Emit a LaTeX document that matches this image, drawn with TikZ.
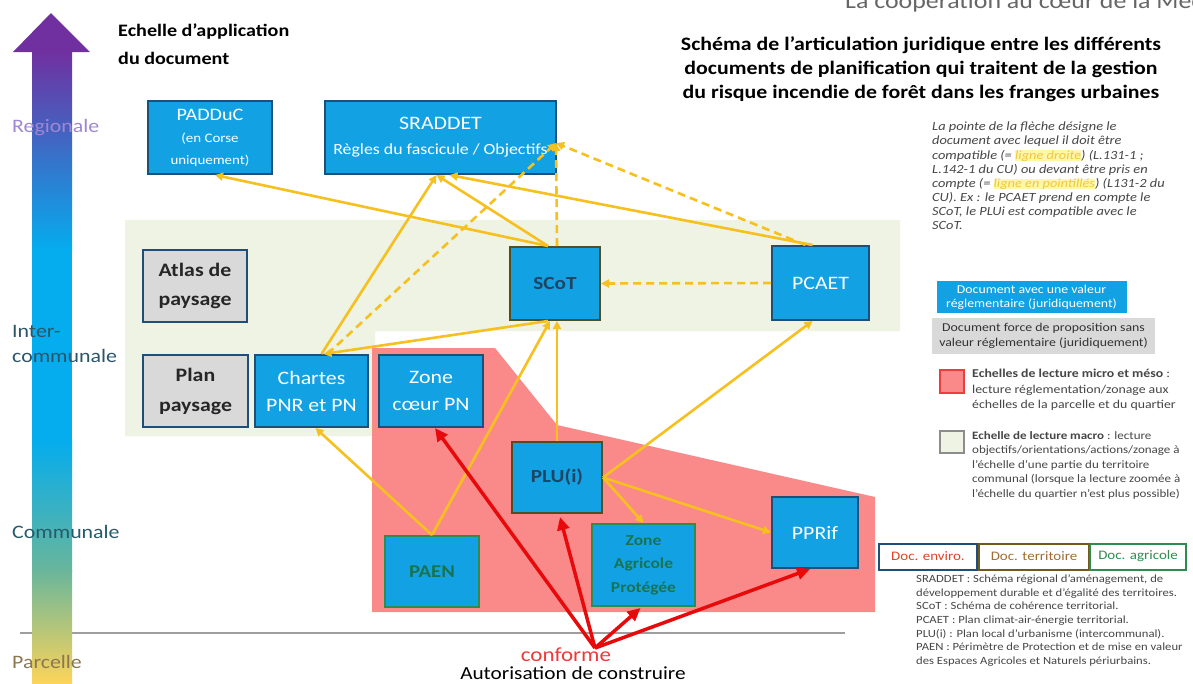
\documentclass[tikz,border=0pt]{standalone}
\usepackage{fontspec}
\setmainfont{Carlito}[FakeStretch=1.15]
\usetikzlibrary{arrows.meta,calc}
\definecolor{boxblue}{RGB}{18,162,228}
\definecolor{bordblue}{RGB}{31,78,121}
\definecolor{bordterr}{RGB}{80,78,35}
\definecolor{bordagri}{RGB}{45,140,80}
\definecolor{grayfill}{RGB}{217,217,217}
\definecolor{yel}{RGB}{246,192,30}
\definecolor{redc}{RGB}{232,10,10}
\definecolor{pinkz}{RGB}{250,138,138}
\definecolor{greenz}{RGB}{238,243,228}
\definecolor{darkt}{RGB}{30,70,100}
\definecolor{darkg}{RGB}{25,115,80}
\definecolor{purp}{RGB}{112,48,160}
\definecolor{cyanb}{RGB}{5,172,238}
\definecolor{tealg}{RGB}{105,182,155}
\definecolor{yelb}{RGB}{252,212,90}
\definecolor{lav}{RGB}{160,135,210}
\definecolor{slate}{RGB}{45,85,105}
\definecolor{olivet}{RGB}{140,120,80}
\definecolor{txtg}{RGB}{70,70,70}
\definecolor{hl}{RGB}{255,246,170}
\definecolor{hltext}{RGB}{240,200,60}
\newcommand\fsz[2]{\fontsize{#1}{#2}\selectfont}
\begin{document}
\begin{tikzpicture}[x=1pt,y=-1pt,
  docbox/.style={draw, line width=2pt, inner sep=0pt, align=center},
  bluebox/.style={docbox, fill=boxblue, draw=bordblue, text=white},
  terrbox/.style={docbox, fill=boxblue, draw=bordterr, text=darkt, font=\bfseries\fsz{18.5}{20}},
  agribox/.style={docbox, fill=boxblue, draw=bordagri, text=darkg, font=\bfseries\fsz{18}{20}},
  graybox/.style={docbox, fill=grayfill, draw=bordblue, text=black!85},
  comp/.style={draw=yel, line width=2.6pt, -{Triangle[length=8pt,width=8pt]}},
  pec/.style={comp, dash pattern=on 8pt off 5pt},
  conf/.style={draw=redc, line width=3.5pt, -{Triangle[length=13pt,width=12pt]}},
  scalelab/.style={anchor=west, inner sep=0pt, font=\fsz{19}{22}},
  legtxt/.style={anchor=north west, inner sep=0pt, align=left, text=txtg}
]
\useasboundingbox (0,0) rectangle (1193,683);
\clip (0,0) rectangle (1193,683);
\fill[white] (0,0) rectangle (1193,683);

% header (cut)
\node[anchor=base west, inner sep=0pt, text=black!60, font=\fsz{22.5}{26}] (hdr) at (845,8) {La coopération au cœur de la Méditerranée};

% zones
\fill[greenz] (125,220) -- (900,220) -- (900,331) -- (375,331) -- (375,436) -- (125,436) -- cycle;
\fill[pinkz] (372,348) -- (495,348) -- (557,425) -- (875,497) -- (875,612) -- (372,612) -- cycle;

% baseline
\draw[black!38, line width=2pt] (20,633) -- (845,633);

% scale arrow
\shade[top color=purp, bottom color=cyanb] (32,51) rectangle (72,250);
\fill[cyanb] (32,249) rectangle (72,441);
\shade[top color=cyanb, bottom color=tealg] (32,440) rectangle (72,571);
\shade[top color=tealg, bottom color=yelb] (32,570) rectangle (72,683);
\fill[purp] (13,52) -- (51,13) -- (90,52) -- cycle;

\node[scalelab, text=lav] (lreg) at (12,128) {Regionale};
\node[scalelab, text=slate] (linter) at (12,331) {Inter-};
\node[scalelab, text=slate] (lcomm) at (12,356) {communale};
\node[scalelab, text=slate!85!teal] (lcom) at (12,532) {Communale};
\node[scalelab, text=olivet] (lparc) at (12,662) {Parcelle};

\node[anchor=north west, inner sep=0pt, align=left, font=\bfseries\fsz{17.5}{28}] (tl) at (118,23.5) {Echelle d’application\\du document};

\node[anchor=north, inner sep=0pt, align=center, font=\bfseries\fsz{19}{24}] (title) at (921,36) {Schéma de l’articulation juridique entre les différents\\documents de planification qui traitent de la gestion\\du risque incendie de forêt dans les franges urbaines};

% document boxes
\node[bluebox, minimum width=124, minimum height=73, font=\fsz{13}{22}] (padduc) at (210,137.5) {{\fsz{17.5}{22}PADDuC}\\(en Corse\\uniquement)};
\node[bluebox, minimum width=231, minimum height=73, font=\fsz{15.5}{25}] (sraddet) at (440.5,137.5) {{\fsz{19}{25}SRADDET}\\Règles du fascicule / Objectifs};
\node[graybox, minimum width=104, minimum height=72, font=\bfseries\fsz{19}{29}] (atlas) at (195,286) {Atlas de\\paysage};
\node[graybox, minimum width=105, minimum height=72, font=\bfseries\fsz{19}{30}] (plan) at (195.5,391) {Plan\\paysage};
\node[bluebox, minimum width=113, minimum height=72, font=\fsz{19}{27}] (chartes) at (311.5,391) {Chartes\\PNR et PN};
\node[bluebox, minimum width=104, minimum height=72, font=\fsz{19}{27}] (zc) at (431,391) {Zone\\cœur PN};
\node[terrbox, minimum width=90, minimum height=73] (scot) at (555,283.5) {SCoT};
\node[bluebox, minimum width=97, minimum height=74, font=\fsz{19}{20}] (pcaet) at (820.5,283) {PCAET};
\node[terrbox, minimum width=90, minimum height=71] (plu) at (557,477.5) {PLU(i)};
\node[agribox, minimum width=103, minimum height=82, font=\bfseries\fsz{15.2}{23.5}] (zap) at (643.5,565) {Zone\\Agricole\\Protégée};
\node[agribox, minimum width=94, minimum height=71] (paen) at (432,571.5) {PAEN};
\node[bluebox, minimum width=86, minimum height=71, font=\fsz{19}{20}] (pprif) at (815,532.5) {PPRif};

% compatibility (solid)
\draw[comp] ($(scot.north)+(-7,0)$) -- ($(padduc.south)+(5,0)$);
\draw[comp] ($(scot.north)+(-7,0)$) -- ($(sraddet.south)+(-4,0)$);
\draw[comp] ($(pcaet.north)+(-8,0)$) -- ($(sraddet.south)+(9,0)$);
\draw[comp] ($(chartes.north)+(10,0)$) -- ($(sraddet.south)+(-4,0)$);
\draw[comp] ($(scot.south)+(-7,0)$) -- ($(chartes.north)+(12,0)$);
\draw[comp] (plu.north) -- ($(scot.south)+(2,0)$);
\draw[comp] (paen.north) -- ($(scot.south)+(-5,0)$);
\draw[comp] (paen.north) -- ($(chartes.south)+(4,0)$);
\draw[comp] (plu.east) -- ($(pcaet.south)+(-8,0)$);
\draw[comp] (plu.east) -- (zap.north);
\draw[comp] (plu.east) -- (pprif.west);

% taking into account (dashed)
\coordinate (sr) at (556,143);
\draw[pec] (pcaet.west) -- (scot.east);
\draw[pec] ($(scot.north)+(2,0)$) -- (sr);
\draw[pec] ($(pcaet.north)+(-15,0)$) -- (sr);
\draw[pec] ($(chartes.north)+(16,0)$) -- (sr);

% conformity (red)
\coordinate (orig) at (595,648);
\draw[conf] (orig) -- ($(zc.south)+(4,0)$);
\draw[conf] (orig) -- ($(plu.south)+(3,3)$);
\draw[conf] (orig) -- ($(zap.south)+(-3,1)$);
\draw[conf] (orig) -- ($(pprif.south)+(-5,0)$);
\node[text=redc!80!white, font=\fsz{20}{22}, inner sep=0pt] (conf) at (566,655) {conforme};
\node[font=\fsz{18.5}{21}, inner sep=0pt] (auto) at (573,673.5) {Autorisation de construire};

% legend
\node[legtxt, font=\itshape\fsz{12.5}{14.1}] (expl) at (932,122) {%
La pointe de la flèche désigne le\\
document avec lequel il doit être\\
compatible (= {\setlength\fboxsep{0pt}\colorbox{hl}{\color{hltext}ligne droite}}) (L.131-1 ;\\
L.142-1 du CU) ou devant être pris en\\
compte (= {\setlength\fboxsep{0pt}\colorbox{hl}{\color{hltext}ligne en pointillés}}) (L131-2 du\\
CU). Ex : le PCAET prend en compte le\\
SCoT, le PLUi est compatible avec le\\
SCoT.};

\node[fill=boxblue, text=white, minimum width=190, minimum height=32, inner sep=0pt, align=center, font=\fsz{12}{14}] (lb) at (1031.5,297) {Document avec une valeur\\réglementaire (juridiquement)};
\node[fill=grayfill, text=black!80, minimum width=223, minimum height=36, inner sep=0pt, align=center, font=\fsz{12}{15}] (lg) at (1043.5,336) {Document force de proposition sans\\valeur réglementaire (juridiquement)};

\node[fill=pinkz, draw=redc!60!pinkz, line width=1.2pt, minimum width=24, minimum height=23, inner sep=0pt] (lpink) at (952,381.5) {};
\node[legtxt, font=\fsz{12}{15.5}] (lpinkt) at (972,369) {\textbf{Echelles de lecture micro et méso} :\\lecture réglementation/zonage aux\\échelles de la parcelle et du quartier};
\node[fill=greenz, draw=black!45, line width=1.2pt, minimum width=24, minimum height=22, inner sep=0pt] (lgreen) at (952,442) {};
\node[legtxt, font=\fsz{11.3}{14.5}] (lgreent) at (972,431) {\textbf{Echelle de lecture macro} : lecture\\objectifs/orientations/actions/zonage à\\l’échelle d’une partie du territoire\\communal (lorsque la lecture zoomée à\\l’échelle du quartier n’est plus possible)};

\node[draw=bordblue, line width=2pt, minimum width=98, minimum height=26, inner sep=0pt, text=red!45!brown, font=\fsz{13}{14}] (denv) at (928,556.5) {Doc. enviro.};
\node[draw=bordterr!80!orange, line width=2pt, minimum width=110, minimum height=26, inner sep=0pt, text=brown!85!black, font=\fsz{13}{14}] (dter) at (1034,556.5) {Doc. territoire};
\node[draw=bordagri, line width=2pt, minimum width=96, minimum height=26, inner sep=0pt, text=bordagri, font=\fsz{13}{14}] (dagr) at (1138,556.5) {Doc. agricole};

\node[legtxt, font=\fsz{11}{13.7}] (gloss) at (916,574.5) {%
SRADDET : Schéma régional d’aménagement, de\\
développement durable et d’égalité des territoires.\\
SCoT : Schéma de cohérence territorial.\\
PCAET : Plan climat-air-énergie territorial.\\
PLU(i) : Plan local d’urbanisme (intercommunal).\\
PAEN : Périmètre de Protection et de mise en valeur\\
des Espaces Agricoles et Naturels périurbains.};
\end{tikzpicture}
\end{document}
